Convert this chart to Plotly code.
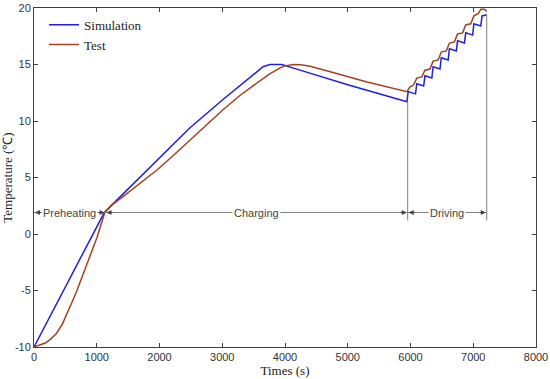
import plotly.graph_objects as go

# ---- data ----
sim_t = [0, 1120, 1211, 1500, 1960, 2486, 3012, 3400, 3650, 3760, 3950, 4240, 5000, 5944,
         5962, 6080, 6100, 6210, 6230, 6340, 6360, 6470, 6490, 6600, 6620, 6730, 6750,
         6860, 6880, 6990, 7010, 7120, 7140, 7215]
sim_v = [-10, 1.9, 2.4, 4.0, 6.55, 9.4, 11.9, 13.65, 14.8, 15.0, 15.0, 14.5, 13.2, 11.7,
         12.6, 12.4, 13.3, 13.1, 14.0, 13.8, 14.8, 14.6, 15.6, 15.4, 16.4, 16.2, 17.1,
         16.9, 17.8, 17.6, 18.6, 18.4, 19.3, 19.4]

test_t = [0, 96, 180, 255, 350, 450, 526, 600, 685, 845, 1004, 1131, 1250, 1418, 1700, 1960,
          2220, 2486, 2750, 3012, 3290, 3554, 3750, 3920, 4000, 4130, 4250, 4400, 4580, 4765,
          5307, 5944,
          5990, 6050, 6100, 6180, 6230, 6310, 6360, 6440, 6490, 6570, 6620, 6700, 6750,
          6830, 6880, 6960, 7010, 7080, 7120, 7180, 7215]
test_v = [-10, -9.85, -9.65, -9.35, -8.85, -8.0, -7.1, -6.1, -5.0, -2.6, -0.3, 1.95, 2.6, 3.3,
          4.5, 5.66, 6.95, 8.3, 9.65, 11.0, 12.3, 13.4, 14.15, 14.7, 14.88, 15.0, 14.98, 14.85,
          14.6, 14.3, 13.45, 12.6,
          13.0, 13.2, 13.8, 13.9, 14.5, 14.6, 15.3, 15.4, 16.1, 16.2, 16.9, 17.0, 17.7,
          17.8, 18.5, 18.6, 19.3, 19.5, 19.9, 19.9, 19.7]

phase_names = ["Preheating", "Charging", "Driving"]
phase_bounds = [0, 1140, 5955, 7215]
phase_y = 1.9
phase_top = [None, None, 11.7, 19.4]

x_ticks = [0, 1000, 2000, 3000, 4000, 5000, 6000, 7000, 8000]
y_ticks = [-10, -5, 0, 5, 10, 15, 20]

sim_color = "#1f1fe0"
test_color = "#a3411f"
grey = "#808080"

fig = go.Figure()
fig.add_trace(go.Scatter(x=sim_t, y=sim_v, mode="lines", name="Simulation",
                         line=dict(color=sim_color, width=1.5)))
fig.add_trace(go.Scatter(x=test_t, y=test_v, mode="lines", name="Test",
                         line=dict(color=test_color, width=1.5)))

# horizontal phase line
fig.add_shape(type="line", x0=phase_bounds[0], x1=phase_bounds[-1], y0=phase_y, y1=phase_y,
              xref="x", yref="y", line=dict(color=grey, width=1))
# vertical separators
for xb, top in zip(phase_bounds, phase_top):
    if top is not None:
        fig.add_shape(type="line", x0=xb, x1=xb, y0=phase_y - 0.7, y1=top,
                      xref="x", yref="y", line=dict(color=grey, width=1))

annotations = []
for i, name in enumerate(phase_names):
    a, b = phase_bounds[i], phase_bounds[i + 1]
    annotations.append(dict(x=(a + b) / 2, y=phase_y, xref="x", yref="y", text=name,
                            showarrow=False, bgcolor="white",
                            font=dict(family="Liberation Sans, Arial", size=11, color="#444")))
    annotations.append(dict(x=a + 15, y=phase_y, ax=a + 140, ay=phase_y, xref="x", yref="y",
                            axref="x", ayref="y", text="", showarrow=True, arrowhead=2,
                            arrowsize=1, arrowwidth=1, arrowcolor="#444"))
    annotations.append(dict(x=b - 15, y=phase_y, ax=b - 140, ay=phase_y, xref="x", yref="y",
                            axref="x", ayref="y", text="", showarrow=True, arrowhead=2,
                            arrowsize=1, arrowwidth=1, arrowcolor="#444"))

axis_common = dict(showline=True, linecolor="#404040", linewidth=1, mirror="ticks",
                   ticks="inside", ticklen=4, tickcolor="#404040", showgrid=False,
                   zeroline=False,
                   tickfont=dict(family="Liberation Sans, Arial", size=11, color="#333"))

fig.update_layout(
    width=550, height=379,
    margin=dict(l=34, r=14, t=8, b=32),
    paper_bgcolor="white", plot_bgcolor="white",
    showlegend=True,
    legend=dict(x=0.02, y=0.995, xanchor="left", yanchor="top", bgcolor="rgba(0,0,0,0)",
                font=dict(family="Liberation Serif, Times New Roman", size=13, color="#222"),
                tracegroupgap=0, itemwidth=30),
    xaxis=dict(range=[0, 8000], tickvals=x_ticks, ticktext=[str(v) for v in x_ticks],
               title=dict(text="Times (s)", standoff=2,
                          font=dict(family="Liberation Serif, Times New Roman", size=13, color="#222")),
               automargin=False, **axis_common),
    yaxis=dict(range=[-10, 20], tickvals=y_ticks, ticktext=[str(v) for v in y_ticks],
               title=dict(text="Temperature (℃)", standoff=2,
                          font=dict(family="Liberation Serif, Times New Roman", size=13, color="#222")),
               automargin=False, **axis_common),
    annotations=annotations,
)

fig.write_html("out.html", config={"displayModeBar": False},
               post_script="document.body.style.margin='0px';")
